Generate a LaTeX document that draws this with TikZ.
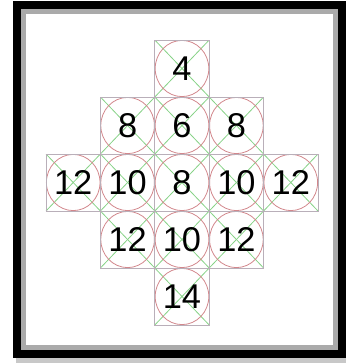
\documentclass[tikz,border=0pt]{standalone}
\usepackage{fontspec}
\setmainfont{Liberation Sans}
\usepackage{xcolor}
\usepackage{tikz}
\usetikzlibrary{calc}
\definecolor{gridgray}{RGB}{185,175,185}
\definecolor{diaggreen}{RGB}{135,210,135}
\definecolor{ringred}{RGB}{210,135,140}
\definecolor{framegray}{RGB}{170,170,170}
\definecolor{shadegray}{RGB}{200,200,200}
\tikzset{
    cell/.style={rectangle,draw=gridgray,line width=0.8bp,minimum width=54.4bp,minimum height=57bp,inner sep=0pt,
        font=\fontsize{34.5}{34.5}\selectfont,text=black,
        path picture={
            \draw[diaggreen,line width=0.8bp] (path picture bounding box.north west) -- (path picture bounding box.south east);
            \draw[diaggreen,line width=0.8bp] (path picture bounding box.north east) -- (path picture bounding box.south west);
            \draw[ringred,line width=0.8bp] (path picture bounding box.center) ellipse [x radius=26.8bp,y radius=28.1bp];
        }},
    frame/.style={draw=black,line width=8bp},
    inner frame/.style={draw=framegray,line width=5bp},
}

\begin{document}
\begin{tikzpicture}[x=1bp,y=-1bp]
\useasboundingbox (0,0) rectangle (346,363);
% frame and shadow
\fill[shadegray] (16,358) rectangle (346,363);
\draw[frame] (17,4.5) rectangle (342,354);
\draw[inner frame] (23.5,11.5) rectangle (335.5,347.5);

% cells: column/row/value
\foreach \col/\row/\val in {3/1/4,
    2/2/8, 3/2/6, 4/2/8,
    1/3/12, 2/3/10, 3/3/8, 4/3/10, 5/3/12,
    2/4/12, 3/4/10, 4/4/12,
    3/5/14}
  \node[cell] (n\col\row) at ({46+54.4*(\col-0.5)},{40+57*(\row-0.5)}) {\val};
\end{tikzpicture}
\end{document}
